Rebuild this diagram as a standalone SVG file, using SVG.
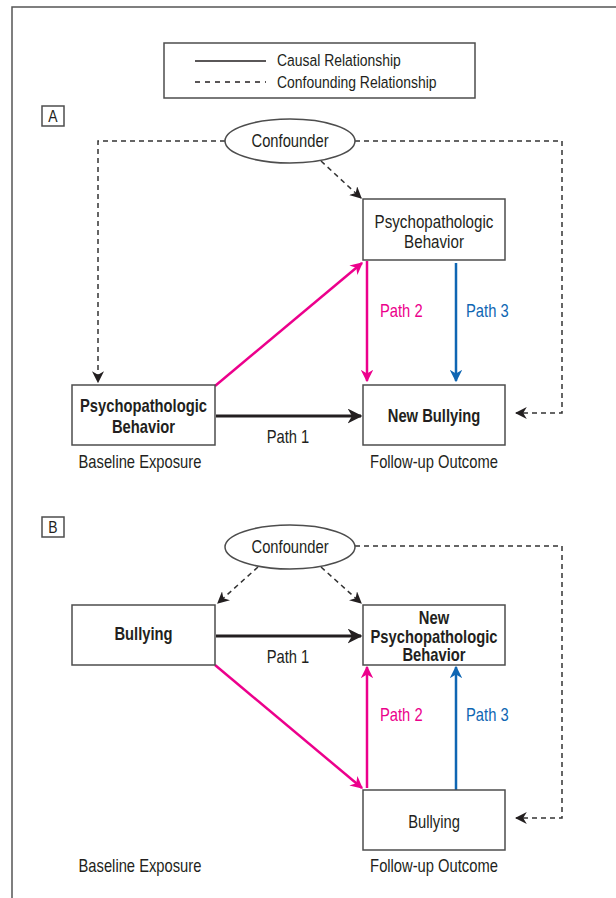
<svg xmlns="http://www.w3.org/2000/svg" width="616" height="898" viewBox="0 0 616 898">
<style>
text{font-family:"Liberation Sans",Arial,sans-serif;font-size:18px;fill:#231f20;text-anchor:middle}
.b{font-weight:bold}
.l{text-anchor:start;font-size:17px}
.pk{fill:#ec008c;text-anchor:start}
.bl{fill:#0f66b3;text-anchor:start}
.box{fill:#fff;stroke:#4d4d4d;stroke-width:1.5}
.dash{fill:none;stroke:#333;stroke-width:1.5;stroke-dasharray:5,4}
.blk{fill:none;stroke:#231f20;stroke-width:3}
.pink{fill:none;stroke:#ec008c;stroke-width:2.5}
.blue{fill:none;stroke:#0f66b3;stroke-width:2.5}
</style>
<defs>
<marker id="ak" viewBox="0 0 10 10" refX="9" refY="5" markerWidth="5" markerHeight="5" orient="auto" markerUnits="strokeWidth"><path d="M0,0 L10,5 L0,10 L3,5 z" fill="#231f20"/></marker>
<marker id="ad" viewBox="0 0 10 10" refX="9" refY="5" markerWidth="8" markerHeight="8" orient="auto" markerUnits="strokeWidth"><path d="M0,0 L10,5 L0,10 L3,5 z" fill="#231f20"/></marker>
<marker id="ap" viewBox="0 0 10 10" refX="9" refY="5" markerWidth="5" markerHeight="5" orient="auto" markerUnits="strokeWidth"><path d="M0,0 L10,5 L0,10 L3,5 z" fill="#ec008c"/></marker>
<marker id="ab" viewBox="0 0 10 10" refX="9" refY="5" markerWidth="5" markerHeight="5" orient="auto" markerUnits="strokeWidth"><path d="M0,0 L10,5 L0,10 L3,5 z" fill="#0f66b3"/></marker>
</defs>
<rect width="616" height="898" fill="#fff"/>
<path d="M12,898 V7 H616" fill="none" stroke="#555" stroke-width="1.5"/>

<g id="legend">
<rect class="box" x="164" y="43" width="311" height="55"/>
<line x1="195" y1="61" x2="266" y2="61" stroke="#231f20" stroke-width="1.5"/>
<line x1="195" y1="82" x2="266" y2="82" stroke="#231f20" stroke-width="1.5" stroke-dasharray="5,5"/>
<g transform="scale(0.82,1)">
<text class="l" x="337.8" y="66">Causal Relationship</text>
<text class="l" x="337.8" y="88">Confounding Relationship</text>
</g>
</g>

<g id="labelA"><rect class="box" x="42" y="106" width="22" height="20"/><text transform="scale(0.82,1)" x="64.6" y="122" style="font-size:17px">A</text></g>
<g id="labelB"><rect class="box" x="42" y="517" width="22" height="20"/><text transform="scale(0.82,1)" x="64.6" y="533" style="font-size:17px">B</text></g>

<g id="connectors">
<path class="dash" d="M225,141 H98 V382" marker-end="url(#ad)"/>
<path class="dash" d="M355,141 H562 V413 H516" marker-end="url(#ad)"/>
<line class="dash" x1="321" y1="161" x2="361" y2="198" marker-end="url(#ad)"/>
<line class="pink" x1="215" y1="386" x2="362" y2="263" marker-end="url(#ap)"/>
<line class="pink" x1="367" y1="261" x2="367" y2="381" marker-end="url(#ap)"/>
<line class="blue" x1="456" y1="263" x2="456" y2="381" marker-end="url(#ab)"/>
<line class="blk" x1="216" y1="416" x2="361" y2="416" marker-end="url(#ak)"/>

<path class="dash" d="M355,546 H562 V818 H516" marker-end="url(#ad)"/>
<line class="dash" x1="258" y1="567" x2="218" y2="603" marker-end="url(#ad)"/>
<line class="dash" x1="321" y1="567" x2="361" y2="603" marker-end="url(#ad)"/>
<line class="blk" x1="216" y1="636" x2="361" y2="636" marker-end="url(#ak)"/>
<line class="pink" x1="215" y1="665" x2="362" y2="788" marker-end="url(#ap)"/>
<line class="pink" x1="367" y1="788" x2="367" y2="667" marker-end="url(#ap)"/>
<line class="blue" x1="456" y1="790" x2="456" y2="667" marker-end="url(#ab)"/>
</g>

<g id="A-confounder"><ellipse cx="290" cy="141" rx="65" ry="22" class="box"/><text transform="scale(0.82,1)" x="353.7" y="147">Confounder</text></g>
<g id="A-psych-followup"><rect class="box" x="363" y="199" width="142" height="61"/><g transform="scale(0.82,1)"><text x="529.3" y="228" style="font-size:18.5px">Psychopathologic</text><text x="529.3" y="248" style="font-size:18.5px">Behavior</text></g></g>
<g id="A-psych-baseline"><rect class="box" x="72" y="385" width="143" height="60"/><g transform="scale(0.82,1)"><text class="b" x="175" y="412">Psychopathologic</text><text class="b" x="175" y="433">Behavior</text></g></g>
<g id="A-newbullying"><rect class="box" x="363" y="385" width="142" height="60"/><text class="b" transform="scale(0.82,1)" x="529.3" y="422">New Bullying</text></g>
<g id="A-labels" transform="scale(0.82,1)">
<text x="351.2" y="443">Path 1</text>
<text class="pk" x="463.4" y="317">Path 2</text>
<text class="bl" x="568.3" y="317">Path 3</text>
<text x="170.7" y="468">Baseline Exposure</text>
<text x="529.3" y="468">Follow-up Outcome</text>
</g>

<g id="B-confounder"><ellipse cx="290" cy="547" rx="65" ry="22" class="box"/><text transform="scale(0.82,1)" x="353.7" y="553">Confounder</text></g>
<g id="B-bullying-baseline"><rect class="box" x="72" y="605" width="143" height="60"/><text class="b" transform="scale(0.82,1)" x="175" y="640">Bullying</text></g>
<g id="B-newpsych"><rect class="box" x="363" y="605" width="142" height="60"/><g transform="scale(0.82,1)"><text class="b" x="529.3" y="624">New</text><text class="b" x="529.3" y="643">Psychopathologic</text><text class="b" x="529.3" y="661">Behavior</text></g></g>
<g id="B-bullying-followup"><rect class="box" x="363" y="790" width="142" height="60"/><text transform="scale(0.82,1)" x="529.3" y="828">Bullying</text></g>
<g id="B-labels" transform="scale(0.82,1)">
<text x="351.2" y="663">Path 1</text>
<text class="pk" x="463.4" y="721">Path 2</text>
<text class="bl" x="568.3" y="721">Path 3</text>
<text x="170.7" y="872">Baseline Exposure</text>
<text x="529.3" y="872">Follow-up Outcome</text>
</g>
</svg>
